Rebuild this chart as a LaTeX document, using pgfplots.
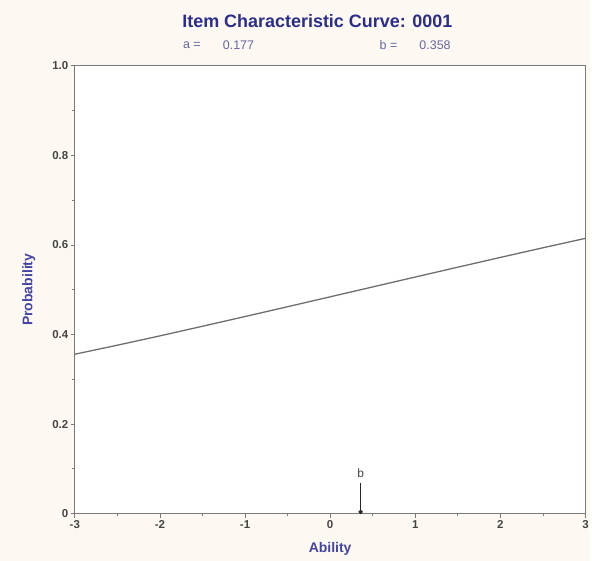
\documentclass[border=0pt]{standalone}
\usepackage{pgfplots}
\pgfplotsset{compat=1.18}
\usepackage{fontspec}
\setmainfont{Liberation Sans}
\definecolor{cream}{HTML}{FDF9F2}
\definecolor{titleblue}{HTML}{2B2D8E}
\definecolor{subblue}{HTML}{66669E}
\definecolor{labblue}{HTML}{4444A6}
\definecolor{axgray}{HTML}{7A7A7A}
\definecolor{ticktext}{HTML}{444444}
\begin{document}
\begin{tikzpicture}[x=1pt,y=1pt]
\fill[cream] (0,0) rectangle (592,562);
\begin{axis}[
  at={(75pt,47pt)}, anchor=south west,
  scale only axis, width=512pt, height=449pt,
  xmin=-3, xmax=3, ymin=0, ymax=1,
  axis background/.style={fill=white},
  axis line style={axgray, line width=1pt},
  xtick={-3,-2,-1,0,1,2,3},
  ytick={0,0.2,0.4,0.6,0.8,1.0},
  yticklabels={0,0.2,0.4,0.6,0.8,1.0},
  minor xtick={-2.5,-1.5,-0.5,0.5,1.5,2.5},
  minor ytick={0.1,0.3,0.5,0.7,0.9},
  tick align=outside,
  xtick pos=bottom, ytick pos=left,
  major tick length=4pt, minor tick length=2.5pt,
  tick style={axgray, line width=0.8pt},
  /pgf/number format/assume math mode=true,
  ticklabel style={font=\fontsize{11.5}{13}\selectfont\bfseries, text=ticktext},
  xticklabel style={yshift=1pt},
  yticklabel style={xshift=1pt},
  xlabel={Ability},
  ylabel={Probability},
  label style={font=\fontsize{14}{16}\selectfont\bfseries, text=labblue},
  xlabel style={at={(axis description cs:0.5,-0.078)}, anchor=center},
  ylabel style={at={(axis description cs:-0.09,0.5)}, anchor=center, rotate=0},
  clip=false,
]
\addplot[axgray!90!black, line width=1.3pt] coordinates {
 (-3,0.356) (-2.5,0.3762) (-2,0.397) (-1.5,0.4185) (-1,0.4402) (-0.5,0.4621)
 (0,0.4842) (0.5,0.5063) (1,0.5284) (1.5,0.5504) (2,0.5722) (2.5,0.5937) (3,0.6148)
};
\addplot[black!85, line width=0.9pt, mark=*, mark size=1.7pt, mark indices={2}] coordinates {
 (0.358,0.068) (0.358,0.004)
} node[pos=0, above=2pt, font=\fontsize{12}{14}\selectfont, text=ticktext] {b};
\node[font=\fontsize{18}{20}\selectfont\bfseries, text=titleblue] at (axis description cs:0.475,1.1) {Item Characteristic Curve: 0001};
\node[font=\fontsize{12.5}{14}\selectfont, text=subblue, anchor=west] at (axis description cs:0.205,1.047) {a =};
\node[font=\fontsize{12.5}{14}\selectfont, text=subblue, anchor=west] at (axis description cs:0.283,1.047) {0.177};
\node[font=\fontsize{12.5}{14}\selectfont, text=subblue, anchor=west] at (axis description cs:0.59,1.047) {b =};
\node[font=\fontsize{12.5}{14}\selectfont, text=subblue, anchor=west] at (axis description cs:0.668,1.047) {0.358};
\end{axis}
\end{tikzpicture}
\end{document}
